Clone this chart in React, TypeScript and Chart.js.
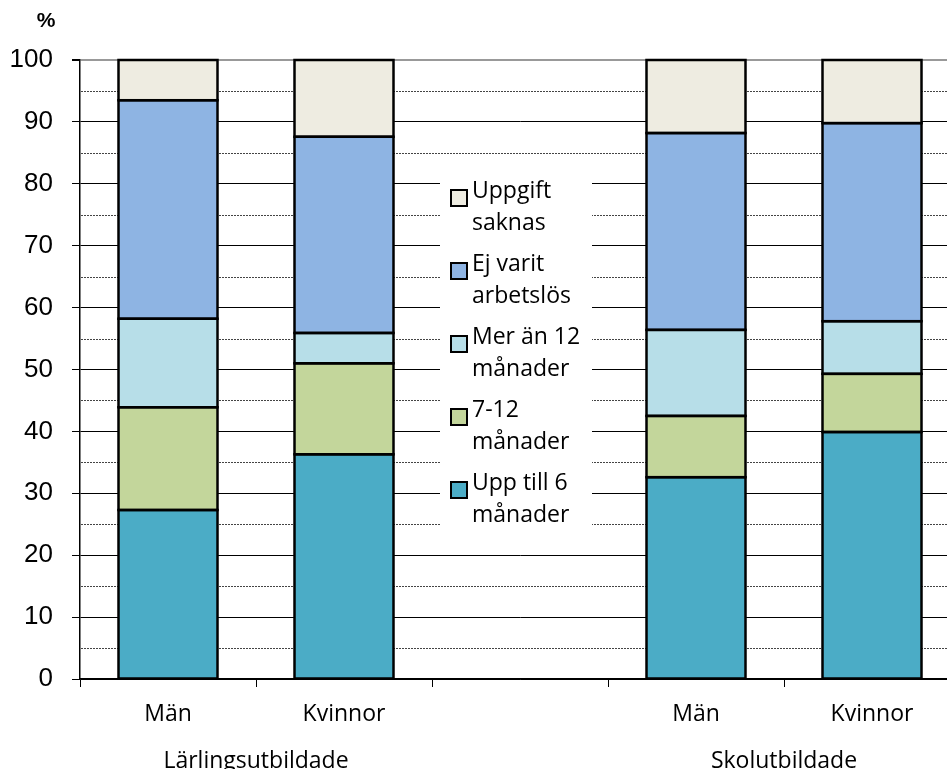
import React, { useEffect, useRef } from "react";
import { Chart, registerables } from "chart.js";

Chart.register(...registerables);

// ---- Data ----
const categories = ["Män", "Kvinnor", "", "Män", "Kvinnor"];
const groupLabels = ["Lärlingsutbildade", "Skolutbildade"];
const yTickValues = [0, 10, 20, 30, 40, 50, 60, 70, 80, 90, 100];

const upTo6Months = [27.3, 36.3, null, 32.6, 39.9];
const months7to12 = [16.6, 14.7, null, 9.9, 9.4];
const over12Months = [14.3, 4.9, null, 13.9, 8.5];
const neverUnemployed = [35.3, 31.7, null, 31.8, 32.0];
const dataMissing = [6.5, 12.4, null, 11.8, 10.2];

const seriesNames = [
  "Upp till 6 månader",
  "7-12 månader",
  "Mer än 12 månader",
  "Ej varit arbetslös",
  "Uppgift saknas",
];
const legendLines = [
  ["Uppgift", "saknas"],
  ["Ej varit", "arbetslös"],
  ["Mer än 12", "månader"],
  ["7-12", "månader"],
  ["Upp till 6", "månader"],
];
const colors = ["#4BACC6", "#C3D69B", "#B7DEE8", "#8EB4E3", "#EEECE1"];

const FONT = "'Open Sans', 'Noto Sans', sans-serif";

export default function App() {
  const ref = useRef<HTMLCanvasElement | null>(null);

  useEffect(() => {
    const canvas = ref.current;
    if (!canvas) return;
    const series = [upTo6Months, months7to12, over12Months, neverUnemployed, dataMissing];
    const n = series.length;

    const minorGrid = {
      id: "minorGrid",
      beforeDatasetsDraw(chart: any) {
        const { ctx, chartArea, scales } = chart;
        ctx.save();
        ctx.strokeStyle = "#444";
        ctx.lineWidth = 1;
        ctx.setLineDash([2, 1]);
        for (let v = 5; v < 100; v += 10) {
          const y = Math.round(scales.y.getPixelForValue(v)) + 0.5;
          ctx.beginPath();
          ctx.moveTo(chartArea.left + 1, y);
          ctx.lineTo(chartArea.right, y);
          ctx.stroke();
        }
        ctx.restore();
      },
    };

    const barOutlines = {
      id: "barOutlines",
      afterDatasetsDraw(chart: any) {
        const { ctx } = chart;
        ctx.save();
        ctx.strokeStyle = "#000";
        ctx.lineWidth = 2.5;
        chart.data.datasets.forEach((_: any, di: number) => {
          const meta = chart.getDatasetMeta(di);
          meta.data.forEach((el: any, idx: number) => {
            const v = chart.data.datasets[di].data[idx];
            if (v == null) return;
            const { x, y, base, width } = el.getProps(["x", "y", "base", "width"], true);
            const top = Math.min(y, base);
            const h = Math.abs(base - y);
            ctx.strokeRect(x - width / 2, top, width, h);
          });
        });
        ctx.restore();
      },
    };

    const extras = {
      id: "extras",
      afterDraw(chart: any) {
        const { ctx, scales } = chart;
        ctx.save();
        // percent sign
        ctx.fillStyle = "#000";
        ctx.font = "bold 21px 'Liberation Sans', Arial, sans-serif";
        ctx.textAlign = "center";
        ctx.textBaseline = "middle";
        ctx.fillText("%", 46, 21);

        // group labels
        ctx.font = `23px ${FONT}`;
        ctx.textBaseline = "alphabetic";
        const g1 = (scales.x.getPixelForValue(0) + scales.x.getPixelForValue(1)) / 2;
        const g2 = (scales.x.getPixelForValue(3) + scales.x.getPixelForValue(4)) / 2;
        ctx.fillText(groupLabels[0], g1, 768);
        ctx.fillText(groupLabels[1], g2, 768);

        // legend
        const cx = scales.x.getPixelForValue(2);
        const left = cx - 78;
        ctx.fillStyle = "#fff";
        ctx.fillRect(left - 2, 168, 152, 368);
        ctx.textAlign = "left";
        ctx.font = `23px ${FONT}`;
        for (let i = 0; i < legendLines.length; i++) {
          const base = 198 + 73 * i;
          const colorIdx = n - 1 - i;
          ctx.fillStyle = colors[colorIdx];
          ctx.fillRect(left + 9, base - 8, 16, 16);
          ctx.strokeStyle = "#000";
          ctx.lineWidth = 2;
          ctx.strokeRect(left + 9, base - 8, 16, 16);
          ctx.fillStyle = "#000";
          ctx.fillText(legendLines[i][0], left + 30, base);
          ctx.fillText(legendLines[i][1], left + 30, base + 32);
        }
        ctx.restore();
      },
    };

    const chart = new Chart(canvas, {
      type: "bar",
      data: {
        labels: categories,
        datasets: series.map((d, i) => ({
          label: seriesNames[i],
          data: d as any,
          backgroundColor: colors[i],
          borderWidth: 0,
          barPercentage: 0.5625,
          categoryPercentage: 1,
        })),
      },
      options: {
        responsive: false,
        animation: false,
        layout: { padding: { top: 60, right: 20, left: 0, bottom: 0 } },
        plugins: { legend: { display: false }, tooltip: { enabled: false } },
        scales: {
          x: {
            stacked: true,
            grid: {
              offset: true,
              drawOnChartArea: false,
              drawTicks: true,
              tickLength: 8,
              color: "#000",
              lineWidth: 1,
            },
            border: { color: "#000", width: 1.5 },
            ticks: {
              font: { family: FONT, size: 23 },
              color: "#000",
              padding: 14,
              maxRotation: 0,
              autoSkip: false,
            },
            afterFit: (s: any) => {
              s.height = 90;
            },
          },
          y: {
            stacked: true,
            min: 0,
            max: 100,
            afterBuildTicks: (s: any) => {
              s.ticks = yTickValues.map((v) => ({ value: v }));
            },
            ticks: {
              font: { family: "'Liberation Sans', Arial, sans-serif", size: 26 },
              color: "#000",
              padding: 19,
            },
            grid: {
              color: (c: any) => (c.tick && c.tick.value === 100 ? "#999" : "#000"),
              tickColor: "#000",
              tickLength: 8,
              lineWidth: (c: any) => (c.tick && c.tick.value === 100 ? 2 : 1),
            },
            border: { color: "#000", width: 1.5 },
            afterFit: (s: any) => {
              s.width = 80;
            },
          },
        },
      },
      plugins: [minorGrid, barOutlines, extras],
    });
    return () => chart.destroy();
  }, []);

  return (
    <div
      style={{
        position: "fixed",
        left: 0,
        top: 0,
        width: 947,
        height: 769,
        overflow: "hidden",
        background: "#fff",
      }}
    >
      <canvas ref={ref} width={980} height={769} style={{ display: "block" }} />
    </div>
  );
}
